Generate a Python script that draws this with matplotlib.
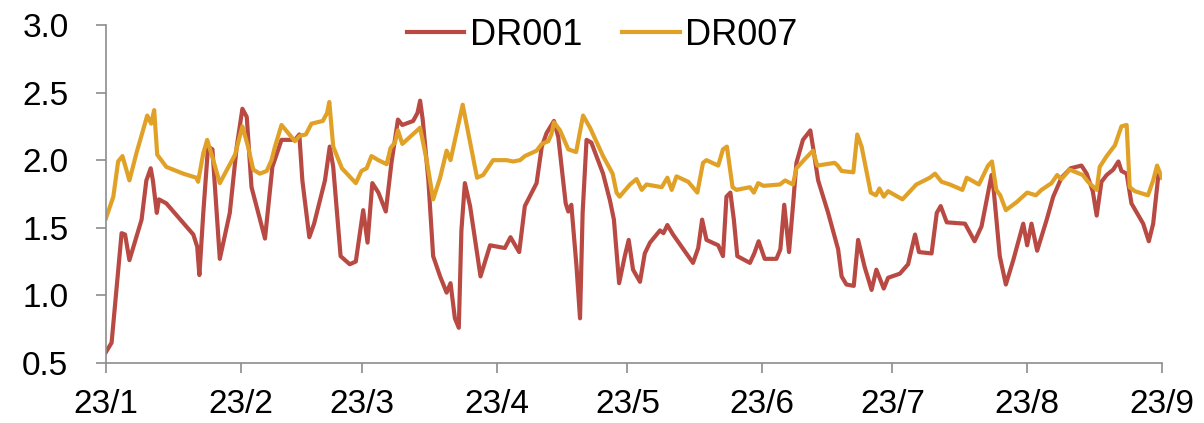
import numpy as np
import pandas as pd
import matplotlib
matplotlib.use('Agg')
import matplotlib.pyplot as plt

plt.rcParams['font.family'] = ['Liberation Sans', 'DejaVu Sans']

# days since 2023-01-01 and the overnight / 7-day repo fixing (%)
dr001_day = [0, 1.3, 2.5, 3.6, 4.4, 5.4, 8.2, 9.3, 10.3, 10.8, 11.7, 12.2, 13.9, 20.1, 21.0, 21.5,
             22.4, 23.5, 24.5, 26.2, 28.5, 30.1, 31.4, 32.4, 33.5, 36.6, 38.3, 40.4, 42.3, 43.5,
             44.5, 45.2, 46.8, 47.9, 50.4, 51.5, 52.3, 54.0, 56.1, 57.5, 59.2, 60.2, 61.3, 62.7,
             64.4, 65.7, 67.2, 68.2, 70.7, 71.7, 72.3, 72.9, 74.2, 75.3, 76.9, 78.4, 79.3, 80.3,
             81.2, 81.8, 82.6, 83.8, 86.2, 88.4, 91.8, 93.1, 95.1, 96.4, 99.1, 100.3, 101.4, 103.1,
             104.1, 105.8, 106.4, 107.1, 108.3, 109.1, 109.7, 110.6, 111.7, 114.4, 116.0, 116.9,
             118.1, 119.4, 120.3, 121.3, 122.9, 124.0, 125.2, 127.5, 128.3, 129.2, 130.5, 135.1,
             136.3, 137.2, 138.2, 140.9, 142.0, 142.8, 143.7, 144.5, 145.3, 148.2, 149.2, 150.2,
             151.6, 154.3, 155.2, 156.1, 157.2, 158.1, 158.9, 160.4, 162.1, 162.7, 163.9, 166.2,
             168.5, 169.3, 170.4, 172.1, 173.1, 174.6, 176.2, 177.3, 179.0, 180.0, 182.7, 184.6,
             186.2, 187.1, 190.0, 191.2, 192.1, 193.5, 197.7, 199.9, 201.5, 203.8, 204.3, 205.7,
             207.1, 208.8, 211.1, 212.0, 213.0, 214.3, 216.5, 218.0, 219.9, 222.0, 224.5, 225.7,
             227.1, 228.0, 229.1, 230.3, 231.8, 233.0, 233.7, 234.9, 236.0, 238.7, 240.0, 241.0,
             242.2, 243.0]
dr001 = [0.58, 0.65, 1.07, 1.46, 1.45, 1.26, 1.56, 1.85, 1.94, 1.85, 1.61, 1.71, 1.68, 1.45, 1.36, 1.15,
         1.61, 2.10, 2.08, 1.27, 1.61, 2.10, 2.38, 2.32, 1.80, 1.42, 1.95, 2.15, 2.15, 2.15,
         2.19, 1.85, 1.43, 1.53, 1.85, 2.10, 1.95, 1.29, 1.23, 1.25, 1.63, 1.39, 1.83, 1.76,
         1.62, 1.98, 2.30, 2.26, 2.29, 2.35, 2.44, 2.30, 1.85, 1.29, 1.14, 1.02, 1.09, 0.83,
         0.76, 1.48, 1.83, 1.66, 1.14, 1.37, 1.35, 1.43, 1.32, 1.66, 1.83, 2.10, 2.20, 2.29,
         2.17, 1.68, 1.62, 1.67, 1.21, 0.83, 1.61, 2.15, 2.13, 1.90, 1.70, 1.56,
         1.09, 1.29, 1.41, 1.19, 1.10, 1.31, 1.39, 1.48, 1.46, 1.52, 1.45, 1.24,
         1.35, 1.56, 1.41, 1.37, 1.29, 1.73, 1.76, 1.56, 1.29, 1.24, 1.31, 1.40,
         1.27, 1.27, 1.34, 1.67, 1.32, 1.66, 1.98, 2.15, 2.22, 2.10, 1.85, 1.61,
         1.34, 1.14, 1.08, 1.07, 1.41, 1.21, 1.04, 1.19, 1.05, 1.13, 1.16, 1.23,
         1.45, 1.32, 1.31, 1.61, 1.66, 1.54, 1.53, 1.40, 1.51, 1.89, 1.78, 1.29,
         1.08, 1.26, 1.53, 1.37, 1.53, 1.33, 1.56, 1.73, 1.87, 1.94, 1.96, 1.90,
         1.77, 1.59, 1.84, 1.89, 1.93, 1.99, 1.92, 1.90, 1.68, 1.53, 1.40, 1.53,
         1.89, 1.88]

dr007_day = [0, 1.7, 2.8, 3.8, 5.4, 7.0, 9.5, 10.4, 11.1, 11.8, 13.9, 17.8, 20.8, 21.2, 22.4, 23.3,
             24.7, 26.2, 29.7, 31.4, 32.7, 33.9, 35.4, 37.0, 38.1, 38.9, 40.4, 43.5, 44.6, 46.0,
             47.3, 49.9, 50.9, 51.4, 52.3, 54.3, 57.5, 58.8, 60.0, 61.1, 62.7, 64.6, 65.5, 66.5,
             67.2, 68.2, 72.3, 73.8, 75.3, 76.9, 78.4, 79.3, 82.1, 83.8, 85.4, 86.8, 89.1, 92.2,
             93.7, 95.3, 96.4, 99.1, 100.3, 101.8, 102.5, 103.1, 104.5, 106.4, 108.2, 109.8, 111.4,
             114.4, 116.6, 117.5, 118.2, 120.6, 122.1, 123.3, 124.4, 127.9, 129.2, 130.2, 131.3,
             134.0, 136.1, 137.4, 138.2, 140.9, 142.0, 142.9, 144.2, 145.1, 148.2, 149.1, 150.1,
             151.3, 155.1, 156.3, 158.1, 158.9, 160.9, 162.7, 163.7, 167.7, 168.4, 169.3, 172.0,
             172.9, 173.9, 176.0, 177.2, 178.0, 179.0, 180.0, 183.3, 186.5, 189.6, 190.8, 192.3,
             194.2, 197.1, 198.1, 200.9, 203.0, 203.9, 204.9, 205.8, 207.1, 209.6, 212.0, 214.0,
             215.3, 217.6, 218.9, 219.9, 221.8, 224.8, 226.0, 228.0, 228.7, 230.3, 232.2, 233.7,
             234.9, 235.6, 236.8, 239.8, 241.0, 241.9, 243.0]
dr007 = [1.57, 1.73, 1.99, 2.03, 1.85, 2.05, 2.33, 2.27, 2.37, 2.04, 1.95, 1.90, 1.87, 1.84, 2.05, 2.15,
         2.00, 1.83, 2.04, 2.25, 2.10, 1.93, 1.90, 1.92, 2.00, 2.10, 2.26, 2.14, 2.18, 2.19,
         2.27, 2.29, 2.35, 2.43, 2.10, 1.94, 1.83, 1.92, 1.94, 2.03, 2.00, 1.97, 2.09, 2.13,
         2.22, 2.12, 2.24, 2.00, 1.71, 1.87, 2.07, 2.00, 2.41, 2.13, 1.87, 1.89, 2.00, 2.00,
         1.99, 2.00, 2.03, 2.07, 2.12, 2.14, 2.19, 2.28, 2.22, 2.08, 2.06, 2.33, 2.24,
         2.03, 1.90, 1.76, 1.73, 1.82, 1.86, 1.78, 1.82, 1.80, 1.87, 1.78, 1.88,
         1.84, 1.76, 1.98, 2.00, 1.96, 2.08, 2.10, 1.80, 1.78, 1.80, 1.76, 1.83,
         1.81, 1.82, 1.85, 1.82, 1.94, 2.01, 2.07, 1.96, 1.98, 1.96, 1.92, 1.91,
         2.19, 2.10, 1.76, 1.74, 1.79, 1.73, 1.77, 1.71, 1.82, 1.87, 1.90, 1.84,
         1.82, 1.78, 1.87, 1.82, 1.96, 1.99, 1.78, 1.74, 1.63, 1.69, 1.76, 1.74,
         1.78, 1.83, 1.89, 1.86, 1.93, 1.89, 1.84, 1.78, 1.95, 2.03, 2.11, 2.25,
         2.26, 1.80, 1.77, 1.74, 1.85, 1.96, 1.87]

month_labels = ['23/1', '23/2', '23/3', '23/4', '23/5', '23/6', '23/7', '23/8', '23/9']

start = pd.Timestamp('2023-01-01')
x1 = start + pd.to_timedelta(dr001_day, unit='D')
x7 = start + pd.to_timedelta(dr007_day, unit='D')
month_ticks = pd.date_range('2023-01-01', '2023-09-01', freq='MS')

fig = plt.figure(figsize=(12.04, 4.23), dpi=100)
ax = fig.add_axes([0.088, 0.142, 0.877, 0.799])

ax.plot(x1, dr001, color='#B84A43', linewidth=3.0, solid_joinstyle='round', label='DR001')
ax.plot(x7, dr007, color='#E0A126', linewidth=3.0, solid_joinstyle='round', label='DR007')

yt = np.arange(0.5, 3.01, 0.5)
ax.set_ylim(0.5, 3.0)
ax.set_yticks(yt)
ax.set_yticklabels(['%.1f' % v for v in yt])
ax.set_xlim(month_ticks[0], month_ticks[-1])
ax.set_xticks(month_ticks)
ax.set_xticklabels(month_labels)

for side in ['top', 'right']:
    ax.spines[side].set_visible(False)
for side in ['left', 'bottom']:
    ax.spines[side].set_color('#8C8C8C')
    ax.spines[side].set_linewidth(1.2)
ax.tick_params(axis='both', colors='#8C8C8C', labelcolor='black', labelsize=24,
               length=7, width=1.2, direction='out')
ax.tick_params(axis='y', pad=20)
ax.tick_params(axis='x', pad=12)

fig.legend(loc='center', bbox_to_anchor=(0.5, 0.917), ncol=2, frameon=False,
           fontsize=26, handlelength=1.6, handletextpad=0.15, columnspacing=1.1)

fig.savefig('out.png', dpi=100)
